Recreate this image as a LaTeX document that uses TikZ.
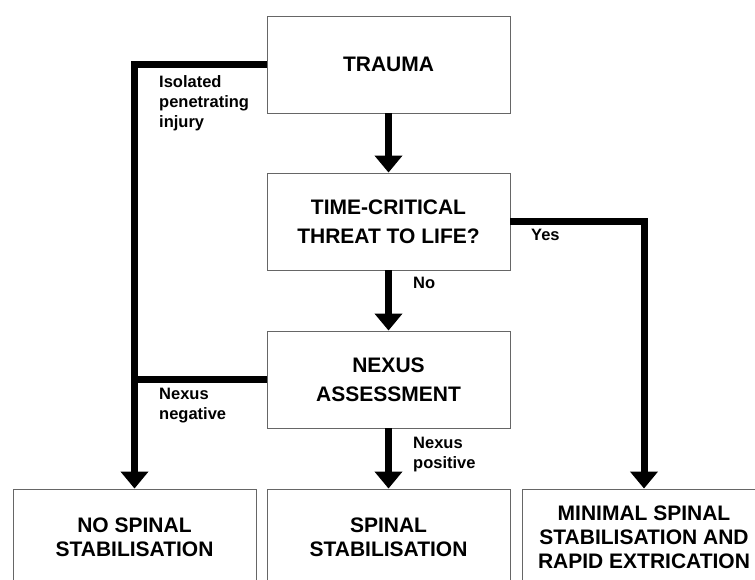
\documentclass[tikz,border=0pt]{standalone}
\usepackage{fontspec}
\setmainfont{Liberation Sans}
\usetikzlibrary{arrows.meta}
\begin{document}
\begin{tikzpicture}[x=1pt,y=-1pt,
  box/.style={draw=black!60, line width=0.9pt, minimum width=243pt, minimum height=97pt,
    align=center, inner sep=0pt, font=\fontsize{21}{29}\selectfont\bfseries},
  lowbox/.style={box, minimum height=96pt, font=\fontsize{21}{24}\selectfont\bfseries},
  conn/.style={line width=7pt, line join=miter, -{Triangle[length=17pt,width=27pt]}},
  plain/.style={line width=7pt, line join=miter},
  lbl/.style={font=\fontsize{16.5}{20}\selectfont\bfseries, align=left, inner sep=0pt, anchor=north west}]
\useasboundingbox (0,0) rectangle (755,580);
\clip (0,0) rectangle (755,580);
\node[box] (trauma) at (388.5,64.5) {TRAUMA};
\node[box] (tc) at (388.5,221.5) {TIME-CRITICAL\\THREAT TO LIFE?};
\node[box] (nexus) at (388.5,379.5) {NEXUS\\ASSESSMENT};
\node[lowbox] (nss) at (134.5,537) {NO SPINAL\\STABILISATION};
\node[lowbox] (ss) at (388.5,537) {SPINAL\\STABILISATION};
\node[lowbox] (mss) at (644,537) {MINIMAL SPINAL\\STABILISATION AND\\RAPID EXTRICATION};
\draw[conn] (trauma.west) -| (nss.north);
\draw[conn] (trauma.south) -- (tc.north);
\draw[conn] (tc.east) -| (mss.north);
\draw[conn] (tc.south) -- (nexus.north);
\draw[plain] (nexus.west) -- (nexus.west -| nss.north);
\draw[conn] (nexus.south) -- (ss.north);
\node[lbl] (liso) at (159,75) {Isolated\\penetrating\\injury};
\node[lbl] (lyes) at (531,229) {Yes};
\node[lbl] (lno) at (413,277) {No};
\node[lbl] (lneg) at (159,388) {Nexus\\negative};
\node[lbl] (lpos) at (413,437) {Nexus\\positive};
\end{tikzpicture}
\end{document}
